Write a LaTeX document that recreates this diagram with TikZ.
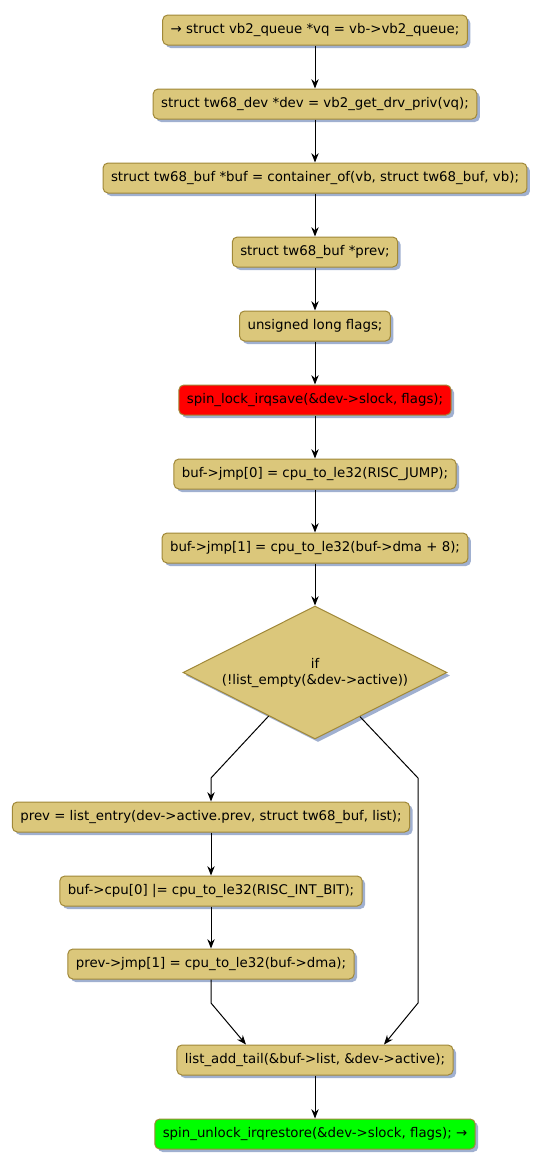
\documentclass[tikz,border=0pt]{standalone}
\usepackage{fontspec}
\setmainfont{DejaVu Sans}
\usepackage{tikz}
\usetikzlibrary{shapes.geometric, arrows.meta, positioning, calc, shadows}
\definecolor{stepfill}{RGB}{219,199,123}
\definecolor{stepdraw}{RGB}{160,136,56}
\definecolor{shadowblue}{RGB}{160,176,208}

\begin{document}
\begin{tikzpicture}[
    x=0.75pt, y=-0.75pt,
    node distance=32.25pt,
    block/.style={rectangle, rounded corners=3.75pt, minimum height=22.5pt, inner xsep=6pt, draw=stepdraw, line width=0.75pt, fill=stepfill, font=\fontsize{10}{12}\selectfont, drop shadow={shadow xshift=2.25pt, shadow yshift=-2.25pt, fill=shadowblue, opacity=1}},
    decision/.style={diamond, aspect=2, minimum width=198pt, minimum height=99.75pt, inner sep=0pt, align=center, draw=stepdraw, line width=0.75pt, fill=stepfill, font=\fontsize{10}{12}\selectfont, drop shadow={shadow xshift=2.25pt, shadow yshift=-2.25pt, fill=shadowblue, opacity=1}},
    arrow/.style={->, >={Stealth[length=7pt, width=5.5pt]}, line width=0.75pt}
]

    \useasboundingbox[fill=white] (0,0) rectangle (545,1168);

    \node[block] (getq) at (315,30) {→ struct vb2\_queue *vq = vb->vb2\_queue;};
    \node[block, below=of getq] (getdev) {struct tw68\_dev *dev = vb2\_get\_drv\_priv(vq);};
    \node[block, below=of getdev] (getbuf) {struct tw68\_buf *buf = container\_of(vb, struct tw68\_buf, vb);};
    \node[block, below=of getbuf] (prevdecl) {struct tw68\_buf *prev;};
    \node[block, below=of prevdecl] (flagsdecl) {unsigned long flags;};
    \node[block, below=of flagsdecl, fill=red] (lock) {spin\_lock\_irqsave(\&dev->slock, flags);};
    \node[block, below=of lock] (jmpzero) {buf->jmp[0] = cpu\_to\_le32(RISC\_JUMP);};
    \node[block, below=of jmpzero] (jmpone) {buf->jmp[1] = cpu\_to\_le32(buf->dma + 8);};
    \node[decision, below=31.5pt of jmpone] (cond) {if\\(!list\_empty(\&dev->active))};

    \node[block] (entry) at (211,817) {prev = list\_entry(dev->active.prev, struct tw68\_buf, list);};
    \node[block, below=of entry] (cpuzero) {buf->cpu[0] |= cpu\_to\_le32(RISC\_INT\_BIT);};
    \node[block, below=31.5pt of cpuzero] (jmpprev) {prev->jmp[1] = cpu\_to\_le32(buf->dma);};

    \node[block] (addtail) at (315,1060) {list\_add\_tail(\&buf->list, \&dev->active);};
    \node[block, below=of addtail, fill=green] (unlock) {spin\_unlock\_irqrestore(\&dev->slock, flags); →};

    \coordinate (lbend) at (211,778);
    \coordinate (rbend) at (418,778);
    \coordinate (ldown) at (211,1003);
    \coordinate (rdown) at (418,1003);

    \draw[arrow] (getq) -- (getdev);
    \draw[arrow] (getdev) -- (getbuf);
    \draw[arrow] (getbuf) -- (prevdecl);
    \draw[arrow] (prevdecl) -- (flagsdecl);
    \draw[arrow] (flagsdecl) -- (lock);
    \draw[arrow] (lock) -- (jmpzero);
    \draw[arrow] (jmpzero) -- (jmpone);
    \draw[arrow] (jmpone) -- (cond);

    \draw[arrow] ($(cond.west)!0.65!(cond.south)$) -- (lbend) -- (entry);
    \draw[arrow] (entry) -- (cpuzero);
    \draw[arrow] (cpuzero) -- (jmpprev);
    \draw[arrow] (jmpprev) -- (ldown) -- ($(addtail.north)+(-69,0)$);
    \draw[arrow] ($(cond.east)!0.66!(cond.south)$) -- (rbend) -- (rdown) -- ($(addtail.north)+(69,0)$);
    \draw[arrow] (addtail) -- (unlock);

\end{tikzpicture}
\end{document}
